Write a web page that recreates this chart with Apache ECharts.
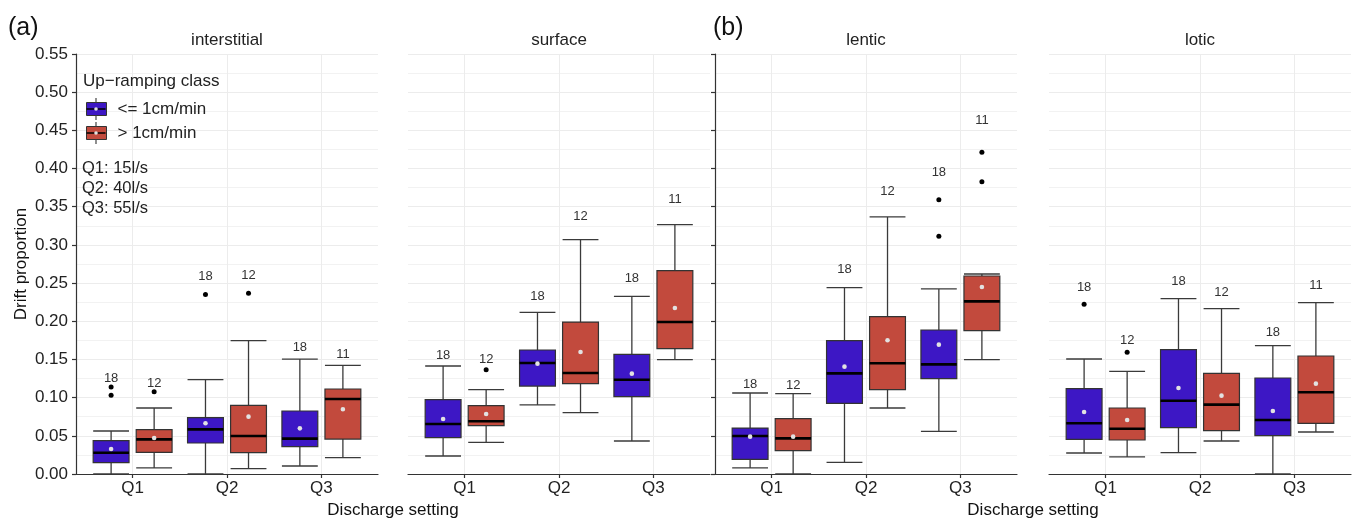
<!DOCTYPE html>
<html>
<head>
<meta charset="utf-8">
<script src="https://cdn.jsdelivr.net/npm/echarts@6/dist/echarts.min.js"></script>
<style>
html,body{margin:0;padding:0;background:#fff;}
#chart{width:1354px;height:519px;}
</style>
</head>
<body>
<div id="chart"></div>
<script>
// ---------------- DATA ----------------
const categories = ['Q1', 'Q2', 'Q3'];
const panelNames = ['interstitial', 'surface', 'lentic', 'lotic'];
const classNames = ['<= 1cm/min', '> 1cm/min'];
const yTicks = [0, 0.05, 0.10, 0.15, 0.20, 0.25, 0.30, 0.35, 0.40, 0.45, 0.50, 0.55];

// box stats per category: [lower whisker, Q1, median, Q3, upper whisker]
const interstitialLow  = [[0.000, 0.0148, 0.0279, 0.0436, 0.0563], [0.000, 0.0406, 0.0585, 0.0738, 0.1235], [0.0105, 0.0358, 0.0463, 0.0825, 0.1505]];
const interstitialHigh = [[0.0079, 0.0284, 0.0454, 0.0580, 0.0864], [0.0070, 0.0279, 0.0498, 0.0899, 0.1746], [0.0214, 0.0458, 0.0982, 0.1113, 0.1423]];
const surfaceLow       = [[0.0236, 0.0476, 0.0655, 0.0973, 0.1414], [0.0904, 0.1152, 0.1454, 0.1624, 0.2117], [0.0432, 0.1013, 0.1235, 0.1567, 0.2327]];
const surfaceHigh      = [[0.0415, 0.0633, 0.0690, 0.0895, 0.1104], [0.0803, 0.1183, 0.1323, 0.1990, 0.3068], [0.1497, 0.1641, 0.1990, 0.2663, 0.3265]];
const lenticLow        = [[0.0079, 0.0192, 0.0498, 0.0602, 0.1061], [0.0153, 0.0925, 0.1318, 0.1746, 0.2440], [0.0559, 0.1248, 0.1436, 0.1886, 0.2423]];
const lenticHigh       = [[0.000, 0.0306, 0.0467, 0.0724, 0.1052], [0.0864, 0.1104, 0.1450, 0.2060, 0.3366], [0.1497, 0.1877, 0.2261, 0.2593, 0.2619]];
const loticLow         = [[0.0275, 0.0454, 0.0664, 0.1117, 0.1506], [0.0279, 0.0607, 0.0960, 0.1628, 0.2296], [0.000, 0.0502, 0.0707, 0.1257, 0.1680]];
const loticHigh        = [[0.0223, 0.0445, 0.0593, 0.0864, 0.1345], [0.0432, 0.0567, 0.0908, 0.1318, 0.2165], [0.0550, 0.0664, 0.1070, 0.1545, 0.2243]];

// means
const interstitialLowMean  = [0.0327, 0.0664, 0.0598];
const interstitialHighMean = [0.0471, 0.0751, 0.0847];
const surfaceLowMean       = [0.0720, 0.1445, 0.1314];
const surfaceHighMean      = [0.0786, 0.1598, 0.2174];
const lenticLowMean        = [0.0489, 0.1406, 0.1694];
const lenticHighMean       = [0.0489, 0.1751, 0.2449];
const loticLowMean         = [0.0812, 0.1126, 0.0825];
const loticHighMean        = [0.0707, 0.1026, 0.1183];

// outliers per category
const interstitialLowOut  = [[0.1139, 0.1030], [0.2349], []];
const interstitialHighOut = [[0.1078], [0.2366], []];
const surfaceLowOut       = [[], [], []];
const surfaceHighOut      = [[0.1366], [], []];
const lenticLowOut        = [[], [], [0.3593, 0.3113]];
const lenticHighOut       = [[], [], [0.4212, 0.3828]];
const loticLowOut         = [[0.2222], [], []];
const loticHighOut        = [[0.1594], [], []];

// sample sizes
const countsLow  = [18, 18, 18];
const countsHigh = [12, 12, 11];

const qDescriptions = ['Q1: 15l/s', 'Q2: 40l/s', 'Q3: 55l/s'];

// ---------------- STYLE ----------------
const FONT = '"Liberation Sans", Arial, sans-serif';
const COLORS = ['#3D17C5', '#C24A3D'];
const DODGE = [-0.228, 0.228];
const BOXW = 0.38;
const GRIDS = [
  {left: 76, top: 54, width: 302, height: 420},
  {left: 408, top: 54, width: 302, height: 420},
  {left: 715, top: 54, width: 302, height: 420},
  {left: 1049, top: 54, width: 302, height: 420}
];

const panelData = [
  [[interstitialLow, interstitialLowMean, interstitialLowOut, countsLow], [interstitialHigh, interstitialHighMean, interstitialHighOut, countsHigh]],
  [[surfaceLow, surfaceLowMean, surfaceLowOut, countsLow], [surfaceHigh, surfaceHighMean, surfaceHighOut, countsHigh]],
  [[lenticLow, lenticLowMean, lenticLowOut, countsLow], [lenticHigh, lenticHighMean, lenticHighOut, countsHigh]],
  [[loticLow, loticLowMean, loticLowOut, countsLow], [loticHigh, loticHighMean, loticHighOut, countsHigh]]
];

function makeRender(cls) {
  return function (params, api) {
    const q = api.value(0);
    const xc = q + DODGE[cls];
    const lo = api.value(1), q1 = api.value(2), md = api.value(3), q3 = api.value(4), hi = api.value(5);
    const mean = api.value(6), n = api.value(7), top = api.value(8);
    const w = api.size([BOXW, 0])[0];
    const pLo = api.coord([xc, lo]), pQ1 = api.coord([xc, q1]), pMd = api.coord([xc, md]);
    const pQ3 = api.coord([xc, q3]), pHi = api.coord([xc, hi]), pMean = api.coord([xc, mean]);
    const pLab = api.coord([xc, top * 1.1]);
    const x0 = pQ1[0] - w / 2, x1 = pQ1[0] + w / 2;
    const lineStyle = {stroke: '#3a3a3a', lineWidth: 1.3};
    return {
      type: 'group',
      children: [
        {type: 'line', shape: {x1: pHi[0], y1: pHi[1], x2: pQ3[0], y2: pQ3[1]}, style: lineStyle},
        {type: 'line', shape: {x1: pLo[0], y1: pLo[1], x2: pQ1[0], y2: pQ1[1]}, style: lineStyle},
        {type: 'line', shape: {x1: x0, y1: pHi[1], x2: x1, y2: pHi[1]}, style: lineStyle},
        {type: 'line', shape: {x1: x0, y1: pLo[1], x2: x1, y2: pLo[1]}, style: lineStyle},
        {type: 'rect', shape: {x: x0, y: pQ3[1], width: w, height: pQ1[1] - pQ3[1]},
          style: {fill: COLORS[cls], stroke: '#333', lineWidth: 1.2}},
        {type: 'line', shape: {x1: x0, y1: pMd[1], x2: x1, y2: pMd[1]}, style: {stroke: '#000', lineWidth: 2.6}},
        {type: 'circle', shape: {cx: pMean[0], cy: pMean[1], r: 2.3}, style: {fill: '#e2e2e2'}},
        {type: 'text', x: pLab[0], y: pLab[1],
          style: {text: String(n), fill: '#333', font: '13px ' + FONT, align: 'center', verticalAlign: 'middle'}}
      ]
    };
  };
}

const series = [];
panelData.forEach(function (pd, pi) {
  pd.forEach(function (cd, cls) {
    const stats = cd[0], means = cd[1], outs = cd[2], counts = cd[3];
    const data = stats.map(function (s, qi) {
      const top = Math.max.apply(null, [s[4]].concat(outs[qi]));
      return [qi + 1, s[0], s[1], s[2], s[3], s[4], means[qi], counts[qi], top];
    });
    series.push({
      name: classNames[cls],
      type: 'custom',
      xAxisIndex: pi, yAxisIndex: pi,
      itemStyle: {color: COLORS[cls]},
      renderItem: makeRender(cls),
      encode: {x: 0, y: [1, 2, 3, 4, 5]},
      data: data,
      clip: false,
      silent: true,
      z: 2
    });
    const od = [];
    outs.forEach(function (arr, qi) {
      arr.forEach(function (v) { od.push([qi + 1 + DODGE[cls], v]); });
    });
    series.push({
      name: classNames[cls] + ' outliers',
      type: 'scatter',
      xAxisIndex: pi, yAxisIndex: pi,
      symbol: 'circle', symbolSize: 5,
      itemStyle: {color: '#000', opacity: 1},
      data: od,
      silent: true,
      z: 3
    });
  });
});

const xAxes = GRIDS.map(function (g, i) {
  return {
    type: 'value', gridIndex: i, min: 0.4, max: 3.6,
    axisLine: {show: true, onZero: false, lineStyle: {color: '#333', width: 1.2}},
    axisTick: {show: true, customValues: [1, 2, 3], length: 4, lineStyle: {color: '#333', width: 1.2}},
    axisLabel: {show: true, customValues: [1, 2, 3], margin: 6,
      formatter: function (v) { return categories[Math.round(v) - 1] || ''; },
      fontFamily: FONT, fontSize: 17, color: '#222'},
    splitLine: {show: true, lineStyle: {color: '#ececec', width: 1}}
  };
});

const yAxes = GRIDS.map(function (g, i) {
  const hasLine = (i === 0 || i === 2);
  return {
    type: 'value', gridIndex: i, min: 0, max: 0.55, interval: 0.05,
    axisLine: {show: hasLine, lineStyle: {color: '#333', width: 1.2}},
    axisTick: {show: hasLine, length: 4, lineStyle: {color: '#333', width: 1.2}},
    axisLabel: {show: i === 0, margin: 8, fontFamily: FONT, fontSize: 17, color: '#222',
      formatter: function (v) { return v.toFixed(2); }},
    splitLine: {show: true, lineStyle: {color: '#ececec', width: 1}},
    minorTick: {show: false, splitNumber: 2},
    minorSplitLine: {show: true, lineStyle: {color: '#f2f2f2', width: 1}},
    name: i === 0 ? 'Drift proportion' : '',
    nameLocation: 'middle', nameGap: 46, nameRotate: 90,
    nameTextStyle: {fontFamily: FONT, fontSize: 17, color: '#111'}
  };
});

const graphics = [];
function txt(x, y, text, size, align, color) {
  graphics.push({type: 'text', x: x, y: y, silent: true, z: 100,
    style: {text: text, font: size + 'px ' + FONT, fill: color || '#222', align: align || 'left', verticalAlign: 'middle'}});
}
txt(8, 28, '(a)', 25, 'left', '#111');
txt(713, 28, '(b)', 25, 'left', '#111');
const panelCenters = GRIDS.map(function (g) { return g.left + g.width / 2; });
panelNames.forEach(function (p, i) { txt(panelCenters[i], 40, p, 17, 'center', '#222'); });
txt((76 + 710) / 2, 510, 'Discharge setting', 17, 'center', '#111');
txt((715 + 1351) / 2, 510, 'Discharge setting', 17, 'center', '#111');
txt(83, 81, 'Up\u2212ramping class', 17, 'left', '#222');
qDescriptions.forEach(function (t, i) { txt(82, 168 + i * 20, t, 16.5, 'left', '#222'); });
// legend key whiskers / median / mean marks
[109, 133].forEach(function (cy) {
  graphics.push({type: 'line', silent: true, z: 100, shape: {x1: 96, y1: cy - 11, x2: 96, y2: cy - 6.5}, style: {stroke: '#444', lineWidth: 1.2}});
  graphics.push({type: 'line', silent: true, z: 100, shape: {x1: 96, y1: cy + 6.5, x2: 96, y2: cy + 11}, style: {stroke: '#444', lineWidth: 1.2}});
  graphics.push({type: 'line', silent: true, z: 100, shape: {x1: 86.5, y1: cy, x2: 105.5, y2: cy}, style: {stroke: '#000', lineWidth: 1.5}});
  graphics.push({type: 'circle', silent: true, z: 101, shape: {cx: 96, cy: cy, r: 1.8}, style: {fill: '#e2e2e2'}});
});

const option = {
  animation: false,
  backgroundColor: '#fff',
  grid: GRIDS.map(function (g) { return Object.assign({containLabel: false}, g); }),
  xAxis: xAxes,
  yAxis: yAxes,
  legend: {
    data: classNames.map(function (n, i) {
      return {name: n, icon: 'rect', itemStyle: {color: COLORS[i], borderColor: '#333', borderWidth: 1}};
    }),
    orient: 'vertical', left: 86, top: 100.5, padding: 0,
    itemWidth: 20, itemHeight: 13, itemGap: 7,
    selectedMode: false,
    textStyle: {fontFamily: FONT, fontSize: 17, color: '#222', lineHeight: 17, padding: [0, 0, 0, 6]}
  },
  graphic: graphics,
  series: series
};

const chart = echarts.init(document.getElementById('chart'), null, {renderer: 'canvas'});
chart.setOption(option);
</script>
</body>
</html>
